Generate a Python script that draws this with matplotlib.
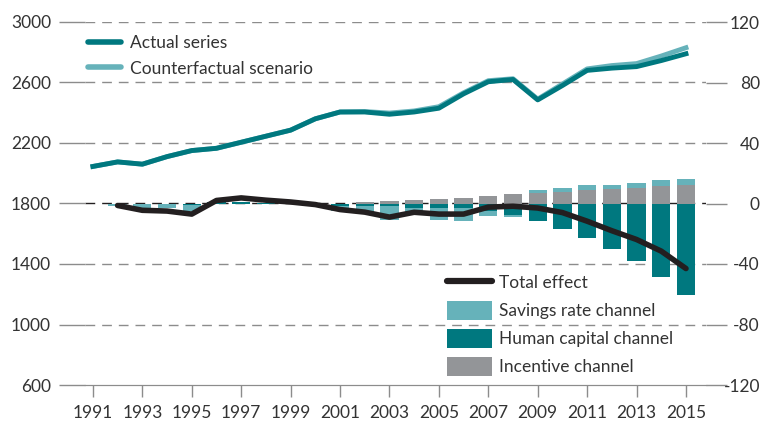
import numpy as np
import matplotlib.pyplot as plt
from matplotlib.patches import Patch
from matplotlib.lines import Line2D

plt.rcParams['font.family'] = ['Lato', 'DejaVu Sans']
plt.rcParams['axes.unicode_minus'] = False

# Series en eje izquierdo
years = list(range(1991, 2016))
actual = [2045, 2075, 2060, 2110, 2150, 2165, 2205, 2245, 2285, 2360, 2405, 2405,
          2390, 2405, 2430, 2525, 2605, 2620, 2485, 2580, 2680, 2695, 2705, 2745, 2790]
counterfactual = [2045, 2075, 2060, 2110, 2150, 2165, 2205, 2245, 2285, 2360, 2405, 2408,
                  2398, 2412, 2440, 2532, 2612, 2625, 2490, 2590, 2690, 2712, 2725, 2775, 2830]

# Efectos en eje derecho (desde 1992)
effect_years = list(range(1992, 2016))
total_effect = [-1.3, -4.5, -5, -7, 2, 3.7, 2.2, 1, -0.7, -4, -5.7, -9, -5.8, -7, -7,
                -2.4, -1.8, -3, -6, -11.7, -18, -23.8, -31.5, -43]
savings = [-1.8, -2.9, -3.3, -4.4, 0, 0, 0, 0, 0, -3.3, -3.6, -8.8, -5, -7.7, -8.4,
           -3.3, -1.5, 1.8, 2.9, 3.3, 2.4, 3.1, 3.8, 3.8]
human = [0, 0, 0, -0.7, 0.8, 0.8, 0.6, 0.5, -0.5, -1.8, -1.8, -1.8, -2.9, -3.3, -3.3,
         -5, -7.3, -11.7, -16.8, -22.7, -30, -38, -48.6, -60.5]
incentive = [0, 0, 0, 0, 0, 0, 0, 0, 0, 0, 0.8, 1.5, 2.2, 2.9, 3.5, 4.9, 6.2, 7.1,
             7.5, 8.8, 9.7, 10.4, 11.5, 12.4]

x_labels = list(range(1991, 2016, 2))

DARK = '#00787F'
LIGHT = '#66B2BA'
GRAY = '#939598'
BLACK = '#231F20'
GRID = '#8C8C8C'
TXT = '#333333'
PT = 0.72  # px -> pt a dpi 100

W, H = 764, 425
fig = plt.figure(figsize=(W / 100, H / 100), dpi=100)
left, right, top, bottom = 85, 706, 22, 385
ax = fig.add_axes([left / W, 1 - bottom / H, (right - left) / W, (bottom - top) / H])
ax2 = ax.twinx()

ax.set_xlim(1990.68, 2015.81)
ax.set_ylim(600, 3000)
ax2.set_ylim(-120, 120)

# Rejilla
for v in range(1000, 3001, 400):
    col = BLACK if v == 1800 else GRID
    ax.axhline(v, color=col, lw=1.0, ls=(0, (7, 5)), zorder=0)

# Barras apiladas
pos_base = np.zeros(len(effect_years))
neg_base = np.zeros(len(effect_years))
for vals, col in [(human, DARK), (incentive, GRAY), (savings, LIGHT)]:
    vals = np.array(vals, dtype=float)
    base = np.where(vals >= 0, pos_base, neg_base)
    ax2.bar(effect_years, vals, bottom=base, width=0.74, color=col, lw=0, zorder=2)
    pos_base = pos_base + np.where(vals > 0, vals, 0)
    neg_base = neg_base + np.where(vals < 0, vals, 0)

ax2.plot(effect_years, total_effect, color=BLACK, lw=4, solid_capstyle='round', zorder=3)

ax.plot(years, counterfactual, color=LIGHT, lw=3.5, zorder=3)
ax.plot(years, actual, color=DARK, lw=3.5, zorder=4)

# Ejes
ax.set_yticks(range(600, 3001, 400))
ax2.set_yticks(range(-120, 121, 40))
ax.set_xticks(x_labels)
for a in (ax, ax2):
    for s in ['top', 'left', 'right']:
        a.spines[s].set_visible(False)
    a.spines['bottom'].set_color(GRID)
ax.tick_params(axis='y', length=26 * PT, width=1, color=GRID, pad=8 * PT, labelsize=12.5, labelcolor=TXT)
ax2.tick_params(axis='y', length=21 * PT, width=1, color=GRID, pad=33 * PT, labelsize=12.5, labelcolor=TXT)
for lab in ax2.get_yticklabels():
    lab.set_horizontalalignment('right')
ax.tick_params(axis='x', length=12 * PT, width=1, color=GRID, pad=8 * PT, labelsize=12.5, labelcolor=TXT)

# Leyendas
h1 = [Line2D([], [], color=DARK, lw=4, solid_capstyle='round'),
      Line2D([], [], color=LIGHT, lw=4, solid_capstyle='round')]
leg1 = ax2.legend(h1, ['Actual series', 'Counterfactual scenario'], loc='upper left',
                  bbox_to_anchor=(88 / W, 1 - 35 / H), bbox_transform=fig.transFigure,
                  frameon=False, fontsize=12.5, handlelength=1.9, handletextpad=0.5,
                  labelspacing=0.55, borderpad=0, borderaxespad=0, labelcolor=TXT)
ax2.add_artist(leg1)

h2 = [Line2D([], [], color=BLACK, lw=4.5, solid_capstyle='round'),
      Patch(color=LIGHT, lw=0), Patch(color=DARK, lw=0), Patch(color=GRAY, lw=0)]
ax2.legend(h2, ['Total effect', 'Savings rate channel', 'Human capital channel', 'Incentive channel'],
           loc='upper left', bbox_to_anchor=(447 / W, 1 - 273 / H), bbox_transform=fig.transFigure,
           frameon=False, fontsize=12.5, handlelength=2.6, handleheight=1.3, handletextpad=0.4,
           labelspacing=0.52, borderpad=0, borderaxespad=0, labelcolor=TXT)

fig.savefig('out.png', dpi=100)
